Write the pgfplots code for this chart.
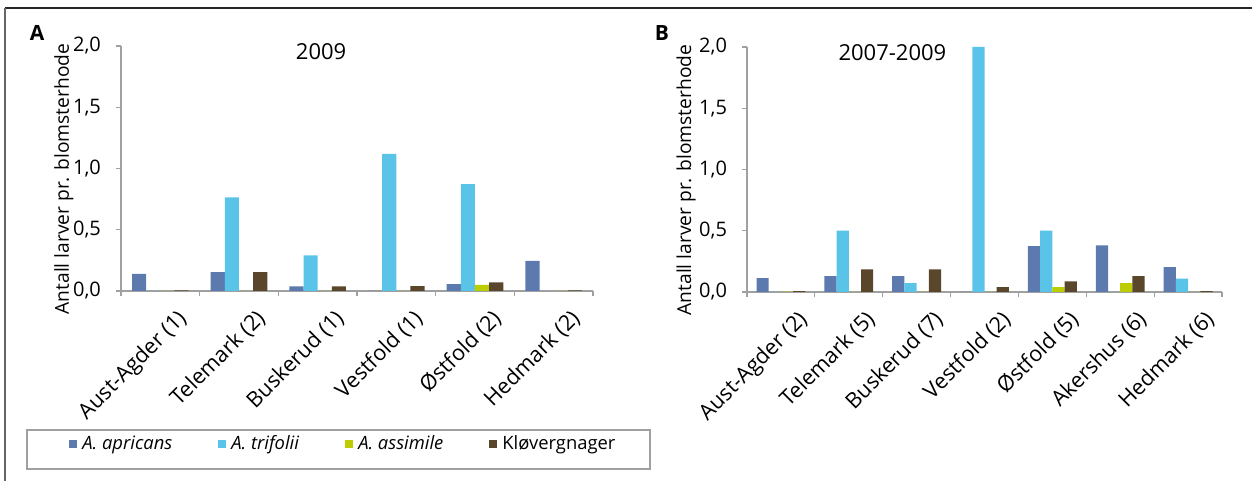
\documentclass[border=0pt]{standalone}
\usepackage{pgfplots}
\pgfplotsset{compat=1.18}
\usepackage{fontspec}
\setmainfont{Open Sans}
\definecolor{capr}{RGB}{92,122,174}
\definecolor{ctri}{RGB}{89,195,232}
\definecolor{cass}{RGB}{188,206,2}
\definecolor{cklo}{RGB}{90,71,43}
\definecolor{axgray}{RGB}{160,160,160}
\pgfplotsset{
  panel/.style={
    scale only axis,
    height=122.5pt,
    ymin=0, ymax=2,
    ytick={0,0.5,1,1.5,2},
    axis x line=bottom, axis y line=left,
    axis line style={-, draw=axgray, line width=0.6pt},
    tick align=outside,
    major tick length=2.5pt,
    tick style={draw=axgray, line width=0.6pt},
    xticklabels={},
    extra x tick style={major tick length=0pt},
    yticklabel style={font=\fontsize{10}{12}\selectfont, xshift=-4pt},
    xticklabel style={rotate=45, anchor=north east, font=\fontsize{10.8}{12}\selectfont, xshift=3pt, yshift=-8pt},
    /pgf/number format/.cd, use comma, fixed, fixed zerofill, precision=1, assume math mode=true,
    /pgfplots/.cd,
    ybar=0pt, bar width=0.18,
    ylabel={Antall larver pr. blomsterhode},
    ylabel style={font=\fontsize{9.6}{11}\selectfont, anchor=center},
    every axis title shift=0pt,
    title style={font=\fontsize{11}{13}\selectfont, anchor=center},
    every axis plot/.append style={draw=none},
  }
}
\begin{document}
\begin{tikzpicture}[x=1pt,y=1pt]
\useasboundingbox (0pt,0pt) rectangle (626pt,240.5pt);
\draw[line width=1.1pt, black!85] (2.5pt,236.5pt) -- (626pt,236.5pt);
\draw[line width=0.8pt, black!60] (2.5pt,0pt) -- (2.5pt,236.5pt);
\node[font=\bfseries\fontsize{10.5}{12}\selectfont] at (18.5pt,224pt) {A};
\node[font=\bfseries\fontsize{10.5}{12}\selectfont] at (331pt,224pt) {B};
\draw[axgray, line width=0.7pt] (13.5pt,6pt) rectangle (325pt,25.5pt);

\begin{axis}[panel,
  at={(60.5pt,95pt)}, anchor=south west, width=236pt,
  xmin=-0.5, xmax=5.5,
  xtick={-0.5,0.5,1.5,2.5,3.5,4.5,5.5},
  extra x ticks={0,1,2,3,4,5},
  extra x tick labels={Aust-Agder (1),Telemark (2),Buskerud (1),Vestfold (1),Østfold (2),Hedmark (2)},
  ylabel style={at={(axis description cs:-0.121,0.457)}},
  title={2009},
  title style={at={(axis description cs:0.424,0.976)}},
  legend columns=4,
  legend style={at={(axis description cs:-0.1102,-0.6245)}, anchor=west, draw=none, fill=none,
    inner xsep=0pt, inner ysep=0pt,
    font=\fontsize{9.2}{10}\selectfont,
    nodes={inner xsep=2.5pt},
    /tikz/every even column/.append style={column sep=20.5pt}},
  legend image code/.code={\fill[#1] (0pt,-2pt) rectangle (4pt,2pt);},
]
\addplot[fill=capr] coordinates {(0,0.14) (1,0.155) (2,0.038) (3,0) (4,0.057) (5,0.245)};
\addplot[fill=ctri] coordinates {(0,0) (1,0.765) (2,0.29) (3,1.12) (4,0.873) (5,0)};
\addplot[fill=cass] coordinates {(0,0) (1,0) (2,0) (3,0) (4,0.049) (5,0)};
\addplot[fill=cklo] coordinates {(0,0.006) (1,0.155) (2,0.038) (3,0.04) (4,0.071) (5,0.006)};
\legend{\textit{A. apricans},\textit{A. trifolii},\textit{A. assimile},Kløvergnager}
\end{axis}

\begin{axis}[panel,
  at={(373.5pt,94.5pt)}, anchor=south west, width=237.5pt,
  xmin=-0.5, xmax=6.5,
  xtick={-0.5,0.5,1.5,2.5,3.5,4.5,5.5,6.5},
  extra x ticks={0,1,2,3,4,5,6},
  extra x tick labels={Aust-Agder (2),Telemark (5),Buskerud (7),Vestfold (2),Østfold (5),Akershus (6),Hedmark (6)},
  ylabel style={at={(axis description cs:-0.128,0.457)}},
  title={2007-2009},
  title style={at={(axis description cs:0.306,0.976)}},
]
\addplot[fill=capr] coordinates {(0,0.114) (1,0.13) (2,0.13) (3,0) (4,0.375) (5,0.38) (6,0.203)};
\addplot[fill=ctri] coordinates {(0,0) (1,0.50) (2,0.073) (3,2.0) (4,0.50) (5,0) (6,0.11)};
\addplot[fill=cass] coordinates {(0,0.004) (1,0) (2,0) (3,0) (4,0.04) (5,0.073) (6,0)};
\addplot[fill=cklo] coordinates {(0,0.008) (1,0.185) (2,0.185) (3,0.04) (4,0.087) (5,0.13) (6,0.007)};
\end{axis}
\end{tikzpicture}
\end{document}
